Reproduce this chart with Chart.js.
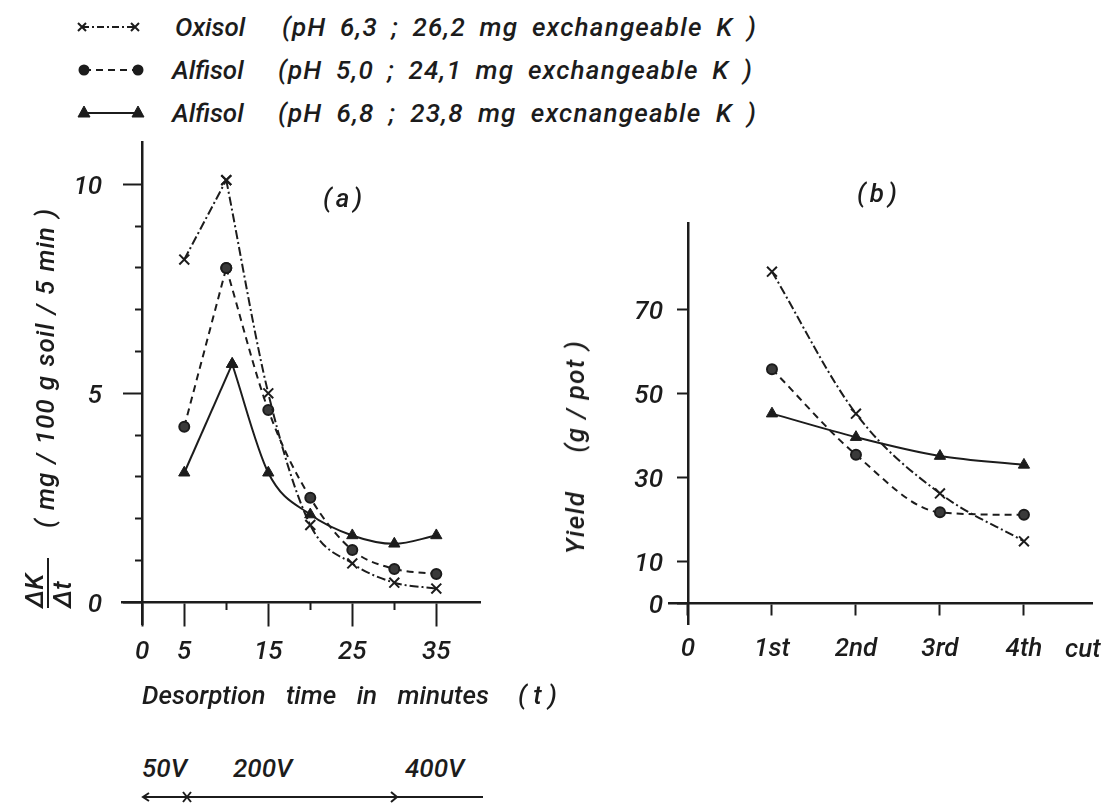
<!DOCTYPE html>
<html>
<head>
<meta charset="utf-8">
<title>K desorption and yield</title>
<script src="https://cdn.jsdelivr.net/npm/chart.js@4.4.1/dist/chart.umd.min.js"></script>
<style>
  body { margin: 0; width: 1110px; height: 805px; position: relative; overflow: hidden; background: #fff;
         font-family: Roboto, "DejaVu Sans", sans-serif; font-style: italic; font-weight: 500; color: #1c1c1c; }
  .t { position: absolute; white-space: pre; font-size: 26px; line-height: 26px; }
  .j { text-align: justify; text-align-last: justify; white-space: normal; letter-spacing: 1.2px; }
  .rot { position: absolute; transform: translate(-50%, -50%) rotate(-90deg); font-size: 26px; line-height: 26px; white-space: nowrap; }
  canvas, svg { position: absolute; }
</style>
</head>
<body>

<!-- legend -->
<svg style="left:70px;top:0" width="90" height="130">
  <g stroke="#1c1c1c" stroke-width="2" fill="#1c1c1c">
    <line x1="12" y1="27" x2="65" y2="27" stroke-dasharray="7 3 2 3"/>
    <path d="M8 23 L16 31 M16 23 L8 31 M61 23 L69 31 M69 23 L61 31"/>
    <line x1="14" y1="70" x2="68" y2="70" stroke-dasharray="7 5"/>
    <circle cx="14" cy="70" r="4.5"/><circle cx="68" cy="70" r="4.5"/>
    <line x1="14" y1="113" x2="68" y2="113"/>
    <path d="M14 106 L20 117 L8 117 Z M68 106 L74 117 L62 117 Z" stroke-width="1"/>
  </g>
</svg>
<div class="t" style="left:175px;top:14px">Oxisol</div>
<div class="t j" style="left:282px;top:14px;width:475px">(pH 6,3 ; 26,2 mg exchangeable K )</div>
<div class="t" style="left:172px;top:57px">Alfisol</div>
<div class="t j" style="left:278px;top:57px;width:475px">(pH 5,0 ; 24,1 mg exchangeable K )</div>
<div class="t" style="left:172px;top:100px">Alfisol</div>
<div class="t j" style="left:278px;top:100px;width:479px">(pH 6,8 ; 23,8 mg excnangeable K )</div>

<!-- panel (a) -->
<canvas id="chartA" width="540" height="590" style="left:0;top:100px"></canvas>
<div class="t" style="left:323px;top:185px;letter-spacing:4px">(a)</div>
<div class="rot" style="left:45px;top:368px;width:320px;text-align:justify;text-align-last:justify;white-space:normal;letter-spacing:1px">( mg / 100 g soil / 5 min )</div>
<div class="rot" style="left:48px;top:583px;width:50px"><div style="width:36px">ΔK</div><div style="border-top:2px solid #1c1c1c;width:50px;height:0"></div><div style="width:36px">Δt</div></div>
<div class="t" style="left:142px;top:682px;word-spacing:14px">Desorption time in minutes</div>
<div class="t" style="left:518px;top:682px">( t )</div>

<!-- voltage steps -->
<div class="t" style="left:142px;top:755px">50V</div>
<div class="t" style="left:233px;top:755px">200V</div>
<div class="t" style="left:405px;top:755px">400V</div>
<svg style="left:135px;top:785px" width="360" height="20">
  <g stroke="#1c1c1c" stroke-width="2" fill="none">
    <line x1="8" y1="12" x2="348" y2="12"/>
    <path d="M14 8 L8 12 L14 16"/>
    <path d="M48 7 L56 17 M56 7 L48 17"/>
    <path d="M256 7 L262 12 L256 17"/>
  </g>
</svg>

<!-- panel (b) -->
<canvas id="chartB" width="570" height="540" style="left:540px;top:150px"></canvas>
<div class="t" style="left:857px;top:180px;letter-spacing:4px">(b)</div>
<div class="rot" style="left:575px;top:447px;letter-spacing:1.5px"><span>Yield</span><span style="margin-left:38px">(g / pot )</span></div>
<div class="t" style="left:1065px;top:635px">cut</div>

<script>
// (a) desorption rate, mg K / 100 g soil / 5 min
const timeMin = [5, 10, 15, 20, 25, 30, 35];
const oxisolRate = [8.2, 10.1, 5.0, 1.85, 0.93, 0.47, 0.33];
const alfisol50Rate = [4.2, 8.0, 4.6, 2.5, 1.25, 0.8, 0.68];
const alfisol68Time = [5, 10.7, 15, 20, 25, 30, 35];
const alfisol68Rate = [3.1, 5.7, 3.1, 2.1, 1.6, 1.4, 1.6];

// (b) yield, g / pot
const cutNo = [1, 2, 3, 4];
const cutLabels = ["0", "1st", "2nd", "3rd", "4th"];
const oxisolYield = [79.0, 45.2, 26.2, 14.8];
const alfisol50Yield = [55.8, 35.4, 21.7, 21.1];
const alfisol68Yield = [45.2, 39.6, 35.1, 33.0];

// tick positions
const aMajorX = [0, 5, 15, 25, 35];
const aMinorX = [10, 20, 30];
const aMajorY = [0, 5, 10];
const aMinorY = [1, 2, 3, 4, 6, 7, 8, 9];
const bTicksX = [0, 1, 2, 3, 4];
const bTicksY = [0, 10, 30, 50, 70];

const ink = "#1c1c1c";
const tickFont = { family: "Roboto", size: 26, style: "italic", weight: "500" };

const looks = {
  oxisol: { borderDash: [9, 3, 2, 3], pointStyle: "crossRot", pointRadius: 7, pointBorderWidth: 2 },
  alf50: { borderDash: [7, 5], pointStyle: "circle", pointRadius: 5, pointBackgroundColor: "#3a3a3a", pointBorderWidth: 2 },
  alf68: { borderDash: [], pointStyle: "triangle", pointRadius: 6.5, pointBorderWidth: 1 },
};

function pts(xs, ys) {
  return xs.map((x, i) => ({ x: x, y: ys[i] }));
}

function line(data, look, smooth) {
  return Object.assign({
    data: data,
    borderColor: ink,
    borderWidth: 2,
    fill: false,
    pointBorderColor: ink,
    pointBackgroundColor: ink,
    tension: 0,
    cubicInterpolationMode: smooth ? "monotone" : "default",
  }, look);
}

function setTicks(values) {
  return (s) => { s.ticks = values.map((v) => ({ value: v })); };
}

function zeroPad(scale) {
  scale.paddingLeft = scale.paddingRight = scale.paddingTop = scale.paddingBottom = 0;
}

// axis line + tick marks, drawn on the data origin, taking no layout room
function axis(dir, min, max, at, values, tickLen, main) {
  return {
    type: "linear",
    axis: dir,
    min: min,
    max: max,
    position: at,
    afterBuildTicks: setTicks(values),
    afterFit: (s) => {
      if (s.isHorizontal()) s.height = 0;
      else s.width = 0;
      zeroPad(s);
    },
    border: { display: main, color: ink, width: 2.5 },
    grid: { drawOnChartArea: false, tickLength: tickLen, tickColor: ink, tickWidth: 2 },
    ticks: { display: false },
  };
}

// x labels hang under the x axis line
function xLabels(axisOpts, pad, labels) {
  axisOpts.ticks = {
    display: true,
    color: ink,
    font: tickFont,
    padding: pad,
    maxRotation: 0,
    autoSkip: false,
    callback: labels || ((v) => v),
  };
  return axisOpts;
}

// y labels sit in a left box that ends at the chart area edge
function yLabels(min, max, values, pad) {
  return {
    type: "linear",
    axis: "y",
    position: "left",
    min: min,
    max: max,
    afterBuildTicks: setTicks(values),
    afterFit: (s) => { s.width = 100; zeroPad(s); },
    border: { display: false },
    grid: { display: false, drawTicks: false },
    ticks: { color: ink, font: tickFont, padding: pad, labelOffset: 3, autoSkip: false },
  };
}

const common = {
  responsive: false,
  animation: false,
  events: [],
  plugins: { legend: { display: false }, tooltip: { enabled: false } },
};

new Chart(document.getElementById("chartA"), {
  type: "line",
  data: {
    datasets: [
      line(pts(timeMin.slice(0, 2), oxisolRate.slice(0, 2)), looks.oxisol, false),
      line(pts(timeMin.slice(1), oxisolRate.slice(1)), looks.oxisol, true),
      line(pts(timeMin.slice(0, 2), alfisol50Rate.slice(0, 2)), looks.alf50, false),
      line(pts(timeMin.slice(1), alfisol50Rate.slice(1)), looks.alf50, true),
      line(pts(alfisol68Time.slice(0, 2), alfisol68Rate.slice(0, 2)), looks.alf68, false),
      line(pts(alfisol68Time.slice(1), alfisol68Rate.slice(1)), looks.alf68, true),
    ],
  },
  options: Object.assign({}, common, {
    layout: { padding: { left: 22.1, right: 60, top: 42.5, bottom: 65.1 } },
    scales: {
      x: xLabels(axis("x", -2.4, 40.2, { y: 0 }, aMajorX, 23, true), 12),
      y: axis("y", -0.54, 11, { x: 0 }, aMajorY, 18, true),
      xMinor: axis("x", -2.4, 40.2, { y: 0 }, aMinorX, 8, false),
      yMinor: axis("y", -0.54, 11, { x: 0 }, aMinorY, 7, false),
      yText: yLabels(-0.54, 11, aMajorY, 20),
    },
  }),
});

new Chart(document.getElementById("chartB"), {
  type: "line",
  data: {
    datasets: [
      line(pts(cutNo, oxisolYield), looks.oxisol, true),
      line(pts(cutNo, alfisol50Yield), looks.alf50, true),
      line(pts(cutNo, alfisol68Yield), looks.alf68, true),
    ],
  },
  options: Object.assign({}, common, {
    layout: { padding: { left: 29.5, right: 18, top: 73.4, bottom: 65.1 } },
    scales: {
      x: xLabels(axis("x", -0.22, 4.81, { y: 0 }, bTicksX, 11, true), 19, (v) => cutLabels[v]),
      y: axis("y", -5.1, 90.5, { x: 0 }, bTicksY, 10, true),
      yText: yLabels(-5.1, 90.5, bTicksY, 6.5),
    },
  }),
});
</script>
</body>
</html>
